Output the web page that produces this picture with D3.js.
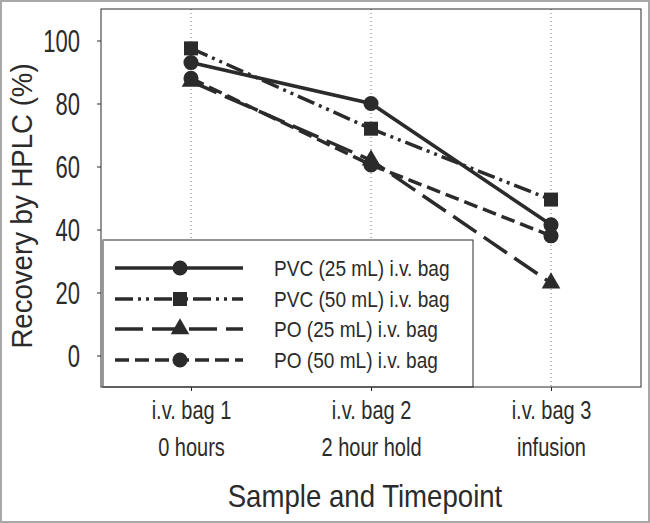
<!DOCTYPE html>
<html><head><meta charset="utf-8">
<script src="https://cdn.jsdelivr.net/npm/d3@7"></script>
<style>
html,body{margin:0;padding:0;background:#fff;}
svg{display:block;}
text{font-family:"Liberation Sans",Arial,sans-serif;fill:#2b2b2b;}
</style></head>
<body>
<svg id="chart" width="650" height="523"></svg>
<script>
const categories = ["i.v. bag 1", "i.v. bag 2", "i.v. bag 3"];
const categorySub = ["0 hours", "2 hour hold", "infusion"];
const seriesNames = ["PVC (25 mL) i.v. bag", "PVC (50 mL) i.v. bag", "PO (25 mL) i.v. bag", "PO (50 mL) i.v. bag"];
const pvc25 = [93, 80, 41.5];
const pvc50 = [97.5, 72, 49.5];
const po25 = [87, 62, 23];
const po50 = [88, 60.5, 38];
const yTicks = [0, 20, 40, 60, 80, 100];
const xTitle = "Sample and Timepoint";
const yTitle = "Recovery by HPLC (%)";

const seriesValues = [pvc25, pvc50, po25, po50];
const styles = [
  {dash: null, symbol: d3.symbolCircle, size: 180},
  {dash: "18,5,3,5,3,5", symbol: d3.symbolSquare, size: 196},
  {dash: "28,9", symbol: d3.symbolTriangle, size: 150},
  {dash: "14,6", symbol: d3.symbolCircle, size: 180}
];
const ink = "#2b2b2b";

const svg = d3.select("#chart");
const W = 650, H = 523;
const L = 101, R = 641, T = 9, B = 387;

svg.append("rect").attr("x", 1).attr("y", 1).attr("width", W - 2).attr("height", H - 2)
  .attr("fill", "#fff").attr("stroke", "#a8a8a8").attr("stroke-width", 2);

const x = d3.scaleLinear().domain([0.5, categories.length + 0.5]).range([L, R]);
const y = d3.scaleLinear().domain([-10, 110]).range([B, T]);

// dotted gridlines
svg.append("g").selectAll("line").data(categories).join("line")
  .attr("x1", (d, i) => x(i + 1)).attr("x2", (d, i) => x(i + 1))
  .attr("y1", T).attr("y2", B)
  .attr("stroke", "#777").attr("stroke-width", 1).attr("stroke-dasharray", "1,3");

// axes
const yAxis = d3.axisLeft(y).tickValues(yTicks).tickSize(4).tickFormat(d3.format("d"));
const gy = svg.append("g").attr("transform", `translate(${L},0)`).call(yAxis);
gy.select(".domain").remove();
gy.selectAll(".tick line").attr("stroke", ink);
gy.selectAll(".tick text").remove();
gy.selectAll(".tick").append("text")
  .attr("transform", "translate(-21,0) scale(0.76,1.05)")
  .attr("text-anchor", "end").attr("dy", "0.35em")
  .style("font-size", "29px").text(d => d);

const xAxis = d3.axisBottom(x).tickValues(categories.map((d, i) => i + 1)).tickSize(4);
const gx = svg.append("g").attr("transform", `translate(0,${B})`).call(xAxis);
gx.select(".domain").remove();
gx.selectAll(".tick line").attr("stroke", ink);
gx.selectAll(".tick text").remove();
gx.selectAll(".tick").each(function (d, i) {
  const g = d3.select(this);
  g.append("text").attr("transform", "translate(0,32) scale(0.8,1.05)")
    .attr("text-anchor", "middle").style("font-size", "25px").text(categories[i]);
  g.append("text").attr("transform", "translate(0,69) scale(0.8,1.05)")
    .attr("text-anchor", "middle").style("font-size", "25px").text(categorySub[i]);
});

// series
const line = d3.line().x((d, i) => x(i + 1)).y(d => y(d));
const gs = svg.append("g");
seriesValues.forEach((vals, k) => {
  gs.append("path").attr("d", line(vals)).attr("fill", "none")
    .attr("stroke", ink).attr("stroke-width", 3.5)
    .attr("stroke-dasharray", styles[k].dash);
  gs.selectAll(null).data(vals).join("path")
    .attr("transform", (d, i) => `translate(${x(i + 1)},${y(d)})`)
    .attr("d", d3.symbol(styles[k].symbol, styles[k].size)())
    .attr("fill", ink);
});

// legend
const lg = svg.append("g");
lg.append("rect").attr("x", 103).attr("y", 240).attr("width", 370).attr("height", B - 240)
  .attr("fill", "#fff").attr("stroke", ink).attr("stroke-width", 1);
lg.append("line").attr("x1", 103).attr("x2", 103).attr("y1", 240).attr("y2", B)
  .attr("stroke", "#999").attr("stroke-width", 2);
const rowY = [268, 299, 329, 360];
seriesNames.forEach((name, k) => {
  lg.append("line").attr("x1", 115).attr("x2", 243).attr("y1", rowY[k]).attr("y2", rowY[k])
    .attr("stroke", ink).attr("stroke-width", 3.5).attr("stroke-dasharray", styles[k].dash);
  lg.append("path").attr("transform", `translate(180,${rowY[k]})`)
    .attr("d", d3.symbol(styles[k].symbol, styles[k].size)()).attr("fill", ink);
  lg.append("text").attr("transform", `translate(274,${rowY[k]}) scale(0.93,1.05)`)
    .attr("dy", "0.35em").style("font-size", "20.5px").text(name);
});

// frame
svg.append("rect").attr("x", L).attr("y", T).attr("width", R - L).attr("height", B - T)
  .attr("fill", "none").attr("stroke", ink).attr("stroke-width", 1);

// titles
svg.append("text").attr("transform", `translate(${(L + R) / 2 - 6},507) scale(0.92,1.05)`)
  .attr("text-anchor", "middle").style("font-size", "30px").text(xTitle);
svg.append("text").attr("transform", `translate(32,${(T + B) / 2 + 8}) rotate(-90) scale(0.92,1)`)
  .attr("text-anchor", "middle").style("font-size", "30px").text(yTitle);
</script>
</body></html>
